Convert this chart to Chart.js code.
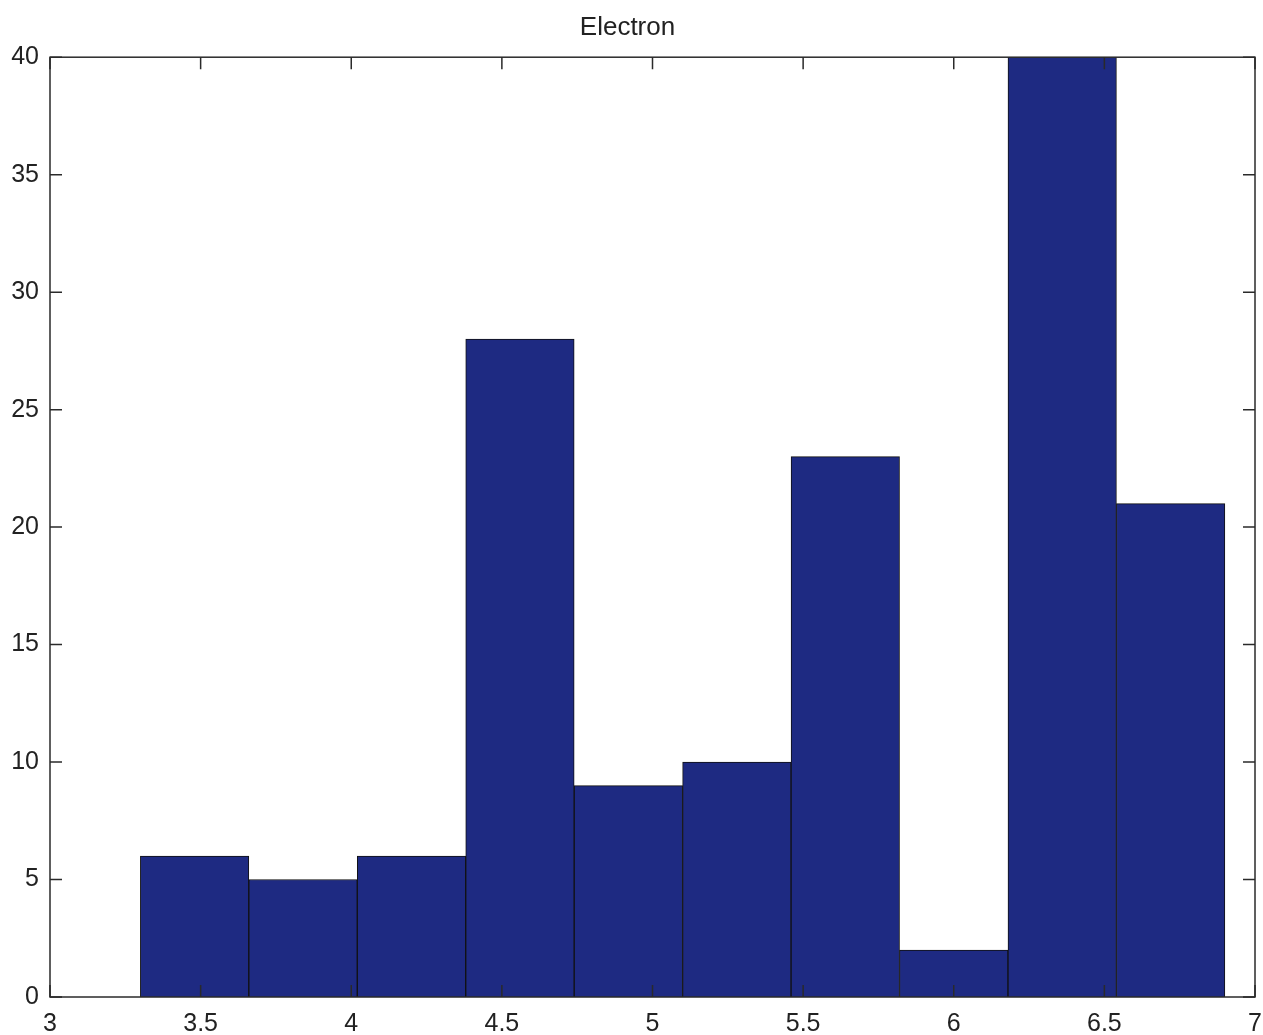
<!DOCTYPE html>
<html>
<head>
<meta charset="utf-8">
<script src="https://cdn.jsdelivr.net/npm/chart.js"></script>
<style>
  html, body { margin: 0; padding: 0; background: #fff; }
  #wrap { width: 1263px; height: 1035px; }
</style>
</head>
<body>
<div id="wrap"><canvas id="chart" width="1263" height="1035"></canvas></div>
<script>
// histogram bins (centres) and counts
const binCenters = [3.48, 3.84, 4.20, 4.56, 4.92, 5.28, 5.64, 6.00, 6.36, 6.72];
const counts = [6, 5, 6, 28, 9, 10, 23, 2, 41, 21];
const xTicks = [3, 3.5, 4, 4.5, 5, 5.5, 6, 6.5, 7];
const yTicks = [0, 5, 10, 15, 20, 25, 30, 35, 40];

const FONT = "'Liberation Sans', Arial, Helvetica, sans-serif";

// frame + inward ticks, matlab style
const framePlugin = {
    id: "frame",
    afterDatasetsDraw(chart) {
        const { ctx, chartArea: a, scales } = chart;
        ctx.save();
        ctx.strokeStyle = "#2a2a2a";
        ctx.lineWidth = 1.5;
        ctx.strokeRect(a.left, a.top, a.right - a.left, a.bottom - a.top);
        const len = 12;
        ctx.beginPath();
        xTicks.forEach(v => {
            const px = scales.x.getPixelForValue(v);
            ctx.moveTo(px, a.bottom); ctx.lineTo(px, a.bottom - len);
            ctx.moveTo(px, a.top); ctx.lineTo(px, a.top + len);
        });
        yTicks.forEach(v => {
            const py = scales.y.getPixelForValue(v);
            ctx.moveTo(a.left, py); ctx.lineTo(a.left + len, py);
            ctx.moveTo(a.right, py); ctx.lineTo(a.right - len, py);
        });
        ctx.stroke();
        ctx.restore();
    }
};

new Chart(document.getElementById("chart").getContext("2d"), {
    type: "bar",
    data: {
        datasets: [{
            data: binCenters.map((x, i) => ({ x, y: counts[i] })),
            backgroundColor: "rgb(30, 42, 130)",
            borderColor: "#111",
            borderWidth: 1,
            barPercentage: 1,
            categoryPercentage: 1
        }]
    },
    plugins: [framePlugin],
    options: {
        responsive: false,
        animation: false,
        layout: { padding: { left: 0, right: 8, top: 0, bottom: 0 } },
        plugins: {
            legend: { display: false },
            tooltip: { enabled: false },
            title: {
                display: true,
                text: "Electron",
                color: "#222",
                font: { family: FONT, size: 26, weight: "normal" },
                padding: { top: 12, bottom: 14 }
            }
        },
        scales: {
            x: {
                type: "linear",
                min: 3,
                max: 7,
                offset: false,
                grid: { display: false, drawTicks: false },
                border: { display: false },
                afterBuildTicks: s => { s.ticks = xTicks.map(v => ({ value: v })); },
                afterFit: s => { s.height = 38; s.paddingLeft = 0; s.paddingRight = 0; },
                ticks: {
                    padding: 12,
                    color: "#222",
                    maxRotation: 0,
                    autoSkip: false,
                    font: { family: FONT, size: 25 },
                    callback: v => String(v)
                }
            },
            y: {
                min: 0,
                max: 40,
                grid: { display: false, drawTicks: false },
                border: { display: false },
                afterBuildTicks: s => { s.ticks = yTicks.map(v => ({ value: v })); },
                afterFit: s => { s.width = 50; s.paddingTop = 0; s.paddingBottom = 0; },
                ticks: {
                    padding: 11,
                    color: "#222",
                    font: { family: FONT, size: 25 },
                    callback: v => String(v)
                }
            }
        }
    }
});
</script>
</body>
</html>
